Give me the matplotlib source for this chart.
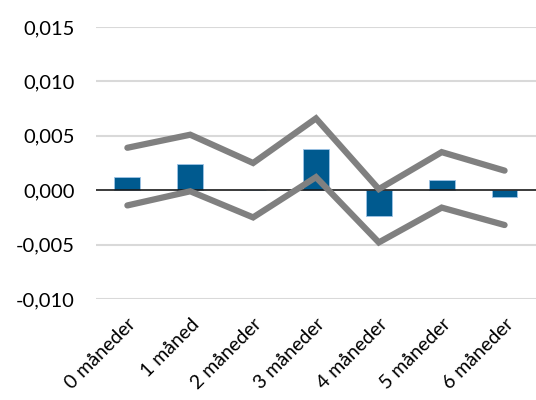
import matplotlib
matplotlib.use("Agg")
import matplotlib.pyplot as plt
import numpy as np

categories = ["0 måneder", "1 måned", "2 måneder", "3 måneder", "4 måneder", "5 måneder", "6 måneder"]
bars = [0.0012, 0.00245, 0.0, 0.0038, -0.0024, 0.0009, -0.00065]
upper = [0.0039, 0.0051, 0.0025, 0.0066, 0.0001, 0.0035, 0.0018]
lower = [-0.0014, -0.0001, -0.0025, 0.0012, -0.0048, -0.0016, -0.0032]
yticks = [-0.010, -0.005, 0.0, 0.005, 0.010, 0.015]

plt.rcParams['font.family'] = ['Lato', 'DejaVu Sans']

fig = plt.figure(figsize=(5.36, 4.0), dpi=100)
ax = fig.add_axes([0.179, 0.2525, 0.821, 0.68])

x = np.arange(len(categories))
ax.set_xlim(-0.5, len(categories) - 0.5)
ax.set_ylim(-0.010, 0.015)

for t in yticks:
    if t != 0:
        ax.axhline(t, color="#d9d9d9", lw=1.5, zorder=0)

ax.bar(x, bars, width=0.41, color="#005a8f", edgecolor="#9dc3e6", linewidth=0.6, zorder=2)
ax.axhline(0, color="#1a1a1a", lw=1.2, zorder=3)
ax.plot(x, upper, color="#808080", lw=4.5, solid_capstyle="round", solid_joinstyle="miter", zorder=4)
ax.plot(x, lower, color="#808080", lw=4.5, solid_capstyle="round", solid_joinstyle="miter", zorder=4)

ax.set_yticks(yticks)
ax.set_yticklabels([f"{v:.3f}".replace(".", ",").replace("-0,000", "0,000") for v in yticks], fontsize=14.5)
ax.set_xticks(x)
ax.set_xticklabels(categories, rotation=45, ha="right", rotation_mode="anchor", fontsize=14)
ax.tick_params(axis="y", length=0, pad=15)
ax.tick_params(axis="x", length=0, pad=12)
for s in ax.spines.values():
    s.set_visible(False)

fig.savefig("out.png", dpi=100)
